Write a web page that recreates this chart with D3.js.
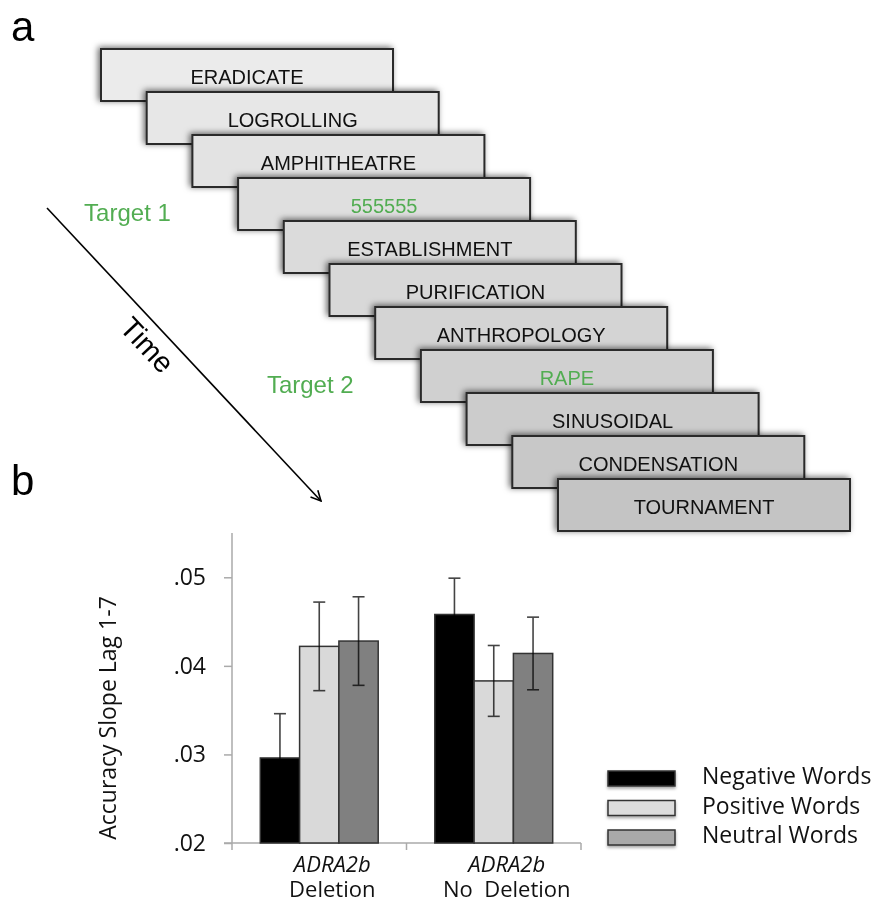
<!DOCTYPE html>
<html>
<head>
<meta charset="utf-8">
<script src="https://cdn.jsdelivr.net/npm/d3@7"></script>
<style>
  body { margin: 0; background: #fff; }
  svg { display: block; }
  .word { font-family: "Liberation Sans", Arial, sans-serif; font-size: 20px; }
  .chart-text { font-family: "Open Sans", "Noto Sans", sans-serif; fill: #111; }
  .err { mix-blend-mode: multiply; }
</style>
</head>
<body>
<div id="svg-container"></div>
<script>
// data
const words = ["ERADICATE", "LOGROLLING", "AMPHITHEATRE", "555555", "ESTABLISHMENT",
  "PURIFICATION", "ANTHROPOLOGY", "RAPE", "SINUSOIDAL", "CONDENSATION", "TOURNAMENT"];
const targetWords = ["555555", "RAPE"];
const targetLabels = ["Target 1", "Target 2"];

const groups = ["Deletion", "No  Deletion"];
const gene = "ADRA2b";
const series = ["Negative Words", "Positive Words", "Neutral Words"];
const means = [
  [0.0296, 0.0422, 0.0428],
  [0.0458, 0.0383, 0.0414]
];
const errors = [
  [0.0050, 0.0050, 0.0050],
  [0.0041, 0.0040, 0.0041]
];
const yTicks = [0.02, 0.03, 0.04, 0.05];

const width = 883, height = 909;
const green = "#52ad52";

const svg = d3.select("#svg-container").append("svg")
  .attr("width", width).attr("height", height);

const defs = svg.append("defs");
defs.append("filter").attr("id", "shadow")
  .attr("x", "-10%").attr("y", "-40%").attr("width", "120%").attr("height", "180%")
  .append("feDropShadow")
  .attr("dx", -2).attr("dy", -1).attr("stdDeviation", 3)
  .attr("flood-color", "#000").attr("flood-opacity", 0.6);
defs.append("filter").attr("id", "soft")
  .attr("x", "-20%").attr("y", "-50%").attr("width", "140%").attr("height", "200%")
  .append("feDropShadow")
  .attr("dx", 0).attr("dy", 2).attr("stdDeviation", 1.5)
  .attr("flood-color", "#000").attr("flood-opacity", 0.35);
defs.append("marker").attr("id", "arrow")
  .attr("viewBox", "0 0 12 12").attr("refX", 11).attr("refY", 6)
  .attr("markerWidth", 12).attr("markerHeight", 12)
  .attr("markerUnits", "userSpaceOnUse").attr("orient", "auto")
  .append("path").attr("d", "M1,1 L11,6 L1,11")
  .attr("fill", "none").attr("stroke", "#000").attr("stroke-width", 1.6);

////////////////////////////  panel a  ////////////////////////////
svg.append("text").attr("x", 11).attr("y", 41)
  .attr("font-family", "Liberation Sans, Arial").attr("font-size", 42).text("a");

const cardW = 292, cardH = 52;
const xCard = d3.scaleLinear().domain([0, words.length - 1]).range([101, 558]);
const yCard = d3.scaleLinear().domain([0, words.length - 1]).range([49, 479]);
const cardFill = d3.scaleLinear().domain([0, words.length - 1]).range(["#ebebeb", "#c4c4c4"]);

const cards = svg.selectAll(".card").data(words).enter()
  .append("g").attr("class", "card")
  .attr("transform", (d, i) => `translate(${xCard(i)},${yCard(i)})`);

cards.append("rect")
  .attr("width", cardW).attr("height", cardH)
  .attr("fill", (d, i) => cardFill(i))
  .attr("stroke", "#2a2a2a").attr("stroke-width", 2)
  .attr("filter", "url(#shadow)");

cards.append("text").attr("class", "word")
  .attr("x", cardW / 2).attr("y", 35)
  .attr("text-anchor", "middle")
  .attr("fill", d => targetWords.includes(d) ? green : "#111")
  .text(d => d);

svg.selectAll(".target").data(targetWords).enter()
  .append("text").attr("class", "target")
  .attr("x", d => xCard(words.indexOf(d)) - 154)
  .attr("y", d => yCard(words.indexOf(d)) + 43)
  .attr("font-family", "Liberation Sans, Arial").attr("font-size", 24)
  .attr("fill", green)
  .text((d, i) => targetLabels[i]);

// time arrow
const t0 = [47, 208], t1 = [321, 501];
svg.append("line")
  .attr("x1", t0[0]).attr("y1", t0[1]).attr("x2", t1[0]).attr("y2", t1[1])
  .attr("stroke", "#000").attr("stroke-width", 1.6)
  .attr("marker-end", "url(#arrow)");
const ang = Math.atan2(t1[1] - t0[1], t1[0] - t0[0]) * 180 / Math.PI;
svg.append("text")
  .attr("transform", `translate(140,352) rotate(${ang})`)
  .attr("text-anchor", "middle")
  .attr("font-family", "Liberation Sans, Arial").attr("font-size", 29)
  .text("Time");

////////////////////////////  panel b  ////////////////////////////
svg.append("text").attr("x", 11).attr("y", 495)
  .attr("font-family", "Liberation Sans, Arial").attr("font-size", 42).text("b");

const margin = { left: 232, right: 302, top: 533, bottom: 66 };
const yScale = d3.scaleLinear().domain([0.02, 0.055]).range([height - margin.bottom, margin.top]);
const x0 = d3.scaleBand().domain(groups).range([margin.left, width - margin.right]);
const x1 = d3.scaleBand().domain(series).range([0, x0.bandwidth()])
  .paddingInner(0).paddingOuter(0.72);
const fills = ["#000000", "#d9d9d9", "#808080"];
const legendFills = ["#000000", "#dcdcdc", "#a9a9a9"];

// y axis
const yAxis = d3.axisLeft(yScale).tickValues(yTicks)
  .tickFormat(d => d3.format(".2f")(d).replace(/^0/, ""))
  .tickSize(8).tickPadding(18);
const yG = svg.append("g").attr("transform", `translate(${margin.left},0)`).call(yAxis);
yG.select(".domain").attr("stroke", "#aaa").attr("stroke-width", 1.5)
  .attr("d", `M0,${margin.top}V${yScale(0.02)}`);
yG.selectAll(".tick line").attr("stroke", "#aaa").attr("stroke-width", 1.5);
yG.selectAll(".tick text").attr("class", "chart-text").attr("font-size", 23).attr("fill", "#111");

// x axis
const xAxisY = yScale(0.02);
svg.append("line")
  .attr("x1", margin.left - 8).attr("x2", width - margin.right)
  .attr("y1", xAxisY).attr("y2", xAxisY)
  .attr("stroke", "#aaa").attr("stroke-width", 1.5);
svg.selectAll(".xtick").data([...groups.map(g => x0(g)), width - margin.right]).enter()
  .append("line")
  .attr("x1", d => d).attr("x2", d => d)
  .attr("y1", xAxisY).attr("y2", xAxisY + 7)
  .attr("stroke", "#aaa").attr("stroke-width", 1.5);

// bars
const barData = [];
groups.forEach((g, gi) => series.forEach((s, si) => {
  barData.push({ group: g, series: s, si, value: means[gi][si], err: errors[gi][si] });
}));

svg.selectAll(".bar").data(barData).enter()
  .append("rect").attr("class", "bar")
  .attr("x", d => x0(d.group) + x1(d.series))
  .attr("y", d => yScale(d.value))
  .attr("width", x1.bandwidth())
  .attr("height", d => yScale(0.02) - yScale(d.value))
  .attr("fill", d => fills[d.si])
  .attr("stroke", "#333").attr("stroke-width", 1.5);

const capW = 12;
const eb = svg.selectAll(".err").data(barData).enter().append("g")
  .attr("class", "err")
  .attr("stroke", "#444").attr("stroke-width", 1.6);
eb.append("line")
  .attr("x1", d => x0(d.group) + x1(d.series) + x1.bandwidth() / 2)
  .attr("x2", d => x0(d.group) + x1(d.series) + x1.bandwidth() / 2)
  .attr("y1", d => yScale(d.value - d.err))
  .attr("y2", d => yScale(d.value + d.err));
[1, -1].forEach(sign => {
  eb.append("line")
    .attr("x1", d => x0(d.group) + x1(d.series) + x1.bandwidth() / 2 - capW / 2)
    .attr("x2", d => x0(d.group) + x1(d.series) + x1.bandwidth() / 2 + capW / 2)
    .attr("y1", d => yScale(d.value + sign * d.err))
    .attr("y2", d => yScale(d.value + sign * d.err));
});

// category labels
const labelShift = 13;
const labels = svg.selectAll(".cat").data(groups).enter().append("text")
  .attr("class", "chart-text").attr("text-anchor", "middle").attr("font-size", 22);
labels.append("tspan")
  .attr("x", d => x0(d) + x0.bandwidth() / 2 + labelShift).attr("y", xAxisY + 29)
  .attr("font-style", "italic").text(gene);
labels.append("tspan")
  .attr("x", d => x0(d) + x0.bandwidth() / 2 + labelShift).attr("y", xAxisY + 54)
  .attr("xml:space", "preserve").style("white-space", "pre").text(d => d);

// y title
svg.append("text").attr("class", "chart-text")
  .attr("transform", `translate(116,${(yScale(0.02) + 593) / 2}) rotate(-90)`)
  .attr("text-anchor", "middle").attr("font-size", 23)
  .text("Accuracy Slope Lag 1-7");

// legend
const legend = svg.selectAll(".legend").data(series).enter().append("g")
  .attr("transform", (d, i) => `translate(608,${771 + i * 29.5})`);
legend.append("rect")
  .attr("width", 67).attr("height", 15)
  .attr("fill", (d, i) => legendFills[i])
  .attr("stroke", "#333").attr("stroke-width", 1.5)
  .attr("filter", "url(#soft)");
legend.append("text").attr("class", "chart-text")
  .attr("x", 94).attr("y", 13).attr("font-size", 23)
  .text(d => d);
</script>
</body>
</html>
